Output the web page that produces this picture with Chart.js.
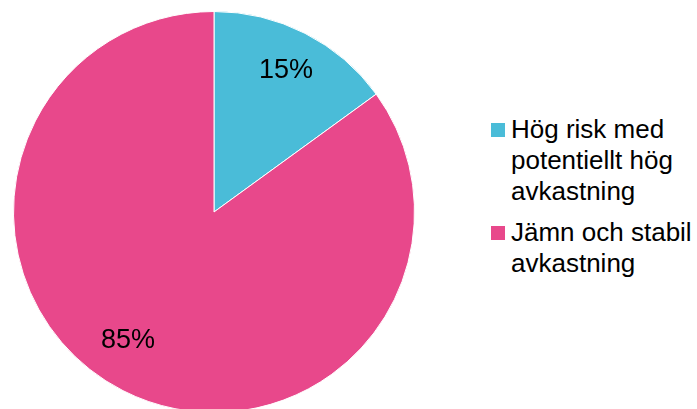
<!DOCTYPE html>
<html>
<head>
<meta charset="utf-8">
<script src="https://cdn.jsdelivr.net/npm/chart.js@4"></script>
<style>
  html, body { margin: 0; padding: 0; background: #fff; overflow: hidden; }
  body { width: 697px; height: 409px; position: relative; font-family: "Liberation Sans", Arial, sans-serif; }
  #wrap { position: absolute; left: 0; top: 0; width: 428px; height: 424px; }
  #legend { position: absolute; left: 491px; top: 114px; font-size: 26px; line-height: 31px; color: #000; white-space: nowrap; }
  .item { position: relative; padding-left: 20px; margin-bottom: 10px; }
  .item span.box { position: absolute; left: 0; top: 9px; width: 14px; height: 14px; }
</style>
</head>
<body>
<div id="wrap"><canvas id="pieChart"></canvas></div>
<div id="legend"></div>
<script>
'use strict';

const LABELS = [['Hög risk med', 'potentiellt hög', 'avkastning'], ['Jämn och stabil', 'avkastning']];
const VALUES = [15, 85];
const COLORS = ['#4ABCD8', '#E8488B'];

// label placement: fraction of radius and angle nudge (radians) per slice
const LABEL_POS = [{ r: 0.79, da: 0 }, { r: 0.77, da: 0.12 }];

// legend as html, lines as in the picture
const legend = document.getElementById('legend');
LABELS.forEach((lines, i) => {
  const div = document.createElement('div');
  div.className = 'item';
  const box = document.createElement('span');
  box.className = 'box';
  box.style.background = COLORS[i];
  div.appendChild(box);
  lines.forEach((t, j) => {
    if (j) div.appendChild(document.createElement('br'));
    div.appendChild(document.createTextNode(t));
  });
  legend.appendChild(div);
});

// percentage labels inside slices
const pctLabels = {
  id: 'pctLabels',
  afterDatasetsDraw(chart) {
    const ctx = chart.ctx;
    const meta = chart.getDatasetMeta(0);
    const total = VALUES.reduce((a, b) => a + b, 0);
    ctx.save();
    ctx.font = '27px "Liberation Sans", Arial, sans-serif';
    ctx.fillStyle = '#000';
    ctx.textAlign = 'center';
    ctx.textBaseline = 'middle';
    meta.data.forEach((arc, i) => {
      const p = arc.getProps(['x', 'y', 'startAngle', 'endAngle', 'outerRadius']);
      const mid = (p.startAngle + p.endAngle) / 2 + LABEL_POS[i].da;
      const r = p.outerRadius * LABEL_POS[i].r;
      const pct = Math.round(VALUES[i] / total * 100) + '%';
      ctx.fillText(pct, p.x + Math.cos(mid) * r, p.y + Math.sin(mid) * r);
    });
    ctx.restore();
  }
};

new Chart(document.getElementById('pieChart'), {
  type: 'pie',
  data: {
    labels: LABELS.map(l => l.join(' ')),
    datasets: [{
      data: VALUES,
      backgroundColor: COLORS,
      borderColor: '#fff',
      borderWidth: 1,
    }],
  },
  options: {
    responsive: true,
    maintainAspectRatio: false,
    animation: false,
    layout: { padding: { left: 13, right: 13, top: 11, bottom: 11 } },
    plugins: { legend: { display: false }, tooltip: { enabled: false } },
  },
  plugins: [pctLabels],
});
</script>
</body>
</html>
